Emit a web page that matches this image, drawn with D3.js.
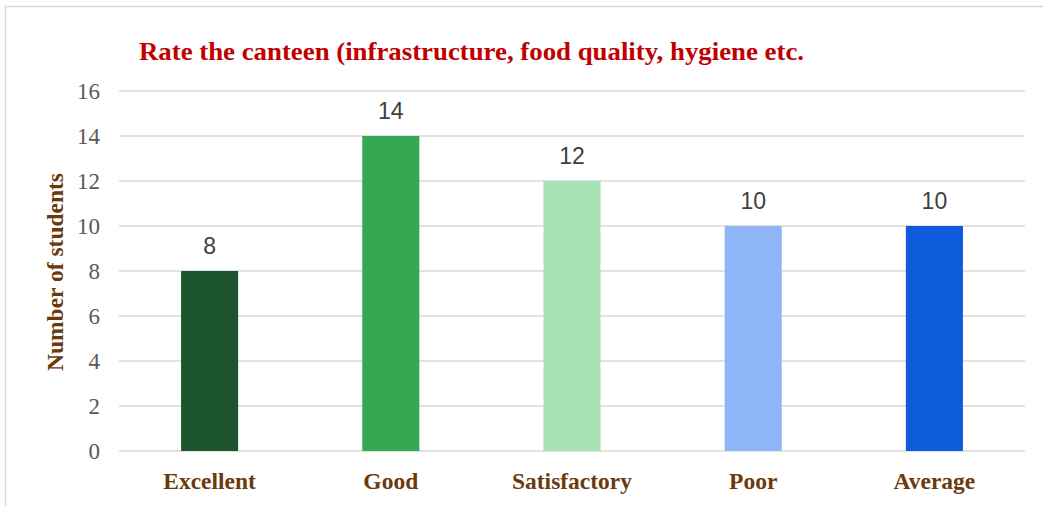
<!DOCTYPE html>
<html>
<head>
<meta charset="utf-8">
<script src="https://cdn.jsdelivr.net/npm/d3@7"></script>
<style>
  body { margin: 0; background: #fff; }
  svg { display: block; }
</style>
</head>
<body>
<svg id="chart" width="1043" height="506"></svg>
<script>
const categories = ["Excellent", "Good", "Satisfactory", "Poor", "Average"]
const students = [8, 14, 12, 10, 10]
const barColors = ["#1c552d", "#34a853", "#a6e3b5", "#8fb5f9", "#0e5bdc"]
const yTicks = [0, 2, 4, 6, 8, 10, 12, 14, 16]

const svg = d3.select("#chart")

// outer frame (only top and left edges are visible)
svg.append("rect")
  .attr("x", 5.5).attr("y", 6.5)
  .attr("width", 1200).attr("height", 600)
  .attr("fill", "none")
  .attr("stroke", "#d9d9d9")
  .attr("stroke-width", 1.5)

const x = d3.scaleBand()
  .domain(categories)
  .range([119, 1025])
  .paddingInner(0.685)
  .paddingOuter(0.3425)

const y = d3.scaleLinear()
  .domain([0, 16])
  .range([451, 91])

// gridlines
svg.append("g")
  .selectAll("line")
  .data(yTicks)
  .join("line")
  .attr("x1", 119).attr("x2", 1025)
  .attr("y1", d => y(d)).attr("y2", d => y(d))
  .attr("stroke", "#d9d9d9")
  .attr("stroke-width", 1.5)

// y tick labels
svg.append("g")
  .selectAll("text")
  .data(yTicks)
  .join("text")
  .attr("x", 100)
  .attr("y", d => y(d))
  .attr("dy", "0.35em")
  .attr("text-anchor", "end")
  .attr("font-family", "Liberation Serif, Times New Roman, serif")
  .attr("font-size", "23px")
  .attr("fill", "#595959")
  .text(d => d)

// bars
const data = categories.map((c, i) => ({ cat: c, value: students[i], color: barColors[i] }))

svg.append("g")
  .selectAll("rect")
  .data(data)
  .join("rect")
  .attr("x", d => x(d.cat))
  .attr("y", d => y(d.value))
  .attr("width", x.bandwidth())
  .attr("height", d => y(0) - y(d.value))
  .attr("fill", d => d.color)

// value labels
svg.append("g")
  .selectAll("text")
  .data(data)
  .join("text")
  .attr("x", d => x(d.cat) + x.bandwidth() / 2)
  .attr("y", d => y(d.value) - 17)
  .attr("text-anchor", "middle")
  .attr("font-family", "Liberation Sans, Arial, sans-serif")
  .attr("font-size", "23px")
  .attr("fill", "#404040")
  .text(d => d.value)

// category labels
svg.append("g")
  .selectAll("text")
  .data(categories)
  .join("text")
  .attr("x", d => x(d) + x.bandwidth() / 2)
  .attr("y", 489)
  .attr("text-anchor", "middle")
  .attr("font-family", "Liberation Serif, Times New Roman, serif")
  .attr("font-weight", "bold")
  .attr("font-size", "23.5px")
  .attr("fill", "#6b3a0c")
  .text(d => d)

// y axis title
svg.append("text")
  .attr("transform", "translate(63,272) rotate(-90)")
  .attr("text-anchor", "middle")
  .attr("font-family", "Liberation Serif, Times New Roman, serif")
  .attr("font-weight", "bold")
  .attr("font-size", "23.5px")
  .attr("fill", "#6b3a0c")
  .text("Number of students")

// chart title
svg.append("text")
  .attr("x", 139)
  .attr("y", 60)
  .attr("font-family", "Liberation Serif, Times New Roman, serif")
  .attr("font-weight", "bold")
  .attr("font-size", "26px")
  .attr("fill", "#c00000")
  .attr("textLength", 665)
  .attr("lengthAdjust", "spacingAndGlyphs")
  .text("Rate the canteen (infrastructure, food quality, hygiene etc.")
</script>
</body>
</html>
